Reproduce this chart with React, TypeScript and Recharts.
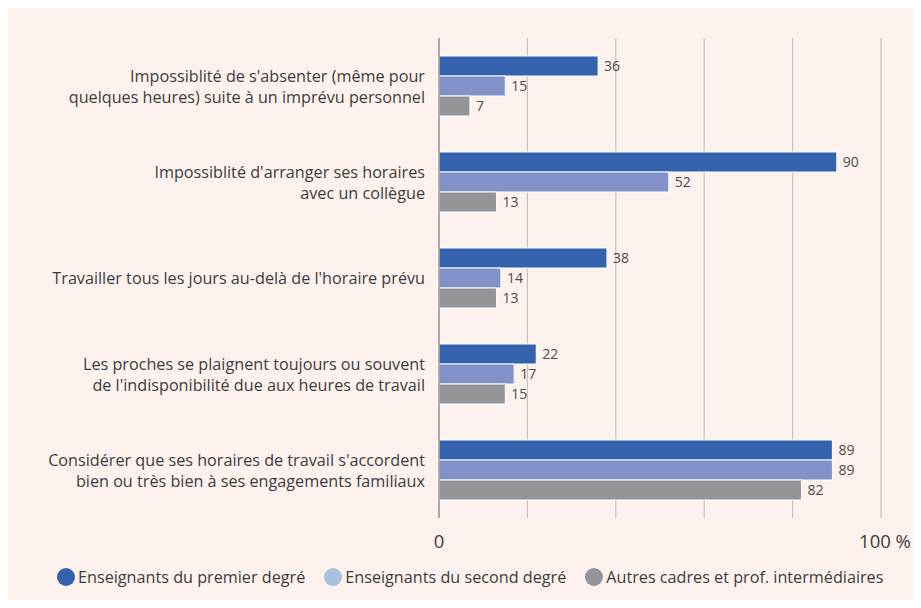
import React from "react";
import {
  Bar,
  BarChart,
  CartesianGrid,
  LabelList,
  Legend,
  XAxis,
  YAxis,
} from "recharts";

const categories = [
  "Impossiblité de s'absenter (même pour\nquelques heures) suite à un imprévu personnel",
  "Impossiblité d'arranger ses horaires\navec un collègue",
  "Travailler tous les jours au-delà de l'horaire prévu",
  "Les proches se plaignent toujours ou souvent\nde l'indisponibilité due aux heures de travail",
  "Considérer que ses horaires de travail s'accordent\nbien ou très bien à ses engagements familiaux",
];
const premierDegre = [36, 90, 38, 22, 89];
const secondDegre = [15, 52, 14, 17, 89];
const autresCadres = [7, 13, 13, 15, 82];
const xTicks = [0, 20, 40, 60, 80, 100];

const series = [
  { key: "premier", name: "Enseignants du premier degré", color: "#3462ad", legend: "#3462ad" },
  { key: "second", name: "Enseignants du second degré", color: "#8092c7", legend: "#a8c0e2" },
  { key: "autres", name: "Autres cadres et prof. intermédiaires", color: "#929497", legend: "#929497" },
];

const data = categories.map((label, i) => ({
  label,
  premier: premierDegre[i],
  second: secondDegre[i],
  autres: autresCadres[i],
}));

const FONT = "'Open Sans', sans-serif";

function CategoryTick({ x, y, payload }: any) {
  const lines = String(payload.value).split("\n");
  const lh = 21;
  const y0 = y - ((lines.length - 1) * lh) / 2;
  return (
    <text x={x - 6} y={y0} textAnchor="end" fontFamily={FONT} fontSize={16.2} fill="#3c3c3c" dominantBaseline="central">
      {lines.map((l, i) => (
        <tspan key={i} x={x - 6} y={y0 + i * lh} dominantBaseline="central">
          {l}
        </tspan>
      ))}
    </text>
  );
}

function ValueTick({ x, y, payload }: any) {
  const v = payload.value;
  const txt = v === 0 ? "0" : v === 100 ? "100 %" : "";
  if (!txt) return null;
  return (
    <text x={v === 100 ? x + 4 : x} y={y + 14} textAnchor="middle" fontFamily={FONT} fontSize={18.5} fill="#3c3c3c" dominantBaseline="central">
      {txt}
    </text>
  );
}

function LegendContent() {
  return (
    <div style={{ display: "flex", justifyContent: "flex-start", gap: 19, fontFamily: FONT, fontSize: 16.2, color: "#3c3c3c", paddingLeft: 49, whiteSpace: "nowrap" }}>
      {series.map((s) => (
        <div key={s.key} style={{ display: "flex", alignItems: "center", gap: 3, flexShrink: 0 }}>
          <span style={{ width: 18, height: 18, borderRadius: 9, background: s.legend, display: "inline-block" }} />
          <span>{s.name}</span>
        </div>
      ))}
    </div>
  );
}

export default function App() {
  return (
    <div style={{ width: 913, height: 600, marginBottom: -8, background: "#fdf2ed" }}>
      <BarChart
        width={913}
        height={600}
        data={data}
        layout="vertical"
        margin={{ top: 30, right: 40, bottom: 18, left: 0 }}
        barCategoryGap={18}
        barGap={0}
      >
        <CartesianGrid horizontal={false} vertical stroke="#c6c2bf" strokeWidth={1.2} />
        <XAxis
          type="number"
          domain={[0, 100]}
          ticks={xTicks}
          axisLine={false}
          tickLine={false}
          height={48}
          tick={<ValueTick />}
          interval={0}
        />
        <YAxis
          type="category"
          dataKey="label"
          width={431}
          axisLine={{ stroke: "#8a8a8a", strokeWidth: 1.2 }}
          tickLine={false}
          tick={<CategoryTick />}
          interval={0}
        />
        <Legend verticalAlign="bottom" height={24} content={<LegendContent />} />
        {series.map((s) => (
          <Bar key={s.key} dataKey={s.key} name={s.name} fill={s.color} stroke="#ffffff" strokeWidth={1} isAnimationActive={false}>
            <LabelList dataKey={s.key} position="right" offset={6} fill="#4a4a4a" fontSize={14} fontFamily={FONT} />
          </Bar>
        ))}
      </BarChart>
    </div>
  );
}
